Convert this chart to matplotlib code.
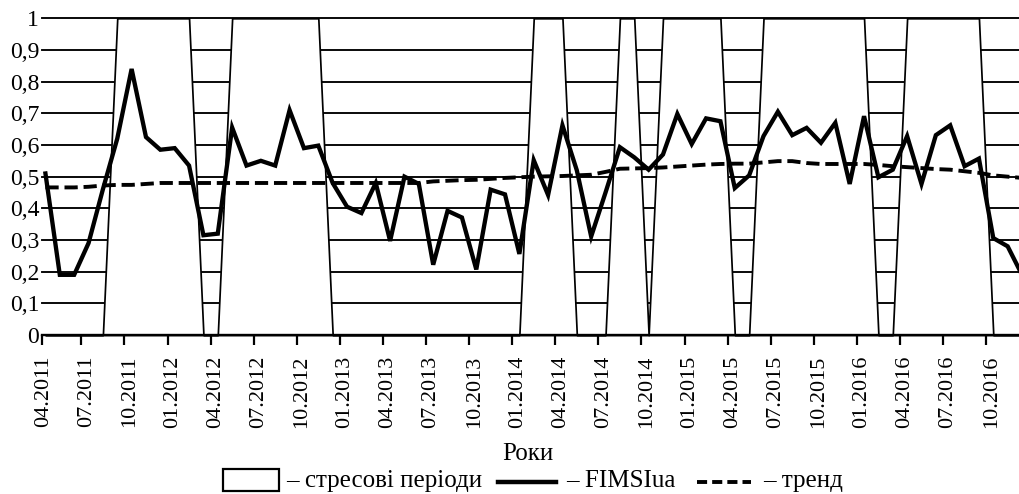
"""
FIMSIua vs stress periods, monthly 04.2011 - 12.2016.
"""

import numpy as np
import matplotlib.pyplot as plt
from matplotlib.patches import Rectangle
from matplotlib.lines import Line2D

plt.rcParams["font.family"] = ["Liberation Serif", "DejaVu Serif"]
plt.rcParams["font.size"] = 16

# monthly index values, 04.2011 ... 12.2016
fimsi = [0.51, 0.19, 0.19, 0.29, 0.46, 0.62, 0.84, 0.625, 0.585, 0.59,
         0.535, 0.315, 0.32, 0.655, 0.535, 0.55, 0.535, 0.71, 0.59, 0.598,
         0.48, 0.405, 0.385, 0.48, 0.297, 0.50, 0.477, 0.222, 0.392, 0.371,
         0.207, 0.459, 0.444, 0.256, 0.552, 0.442, 0.662, 0.52, 0.311, 0.45,
         0.593, 0.561, 0.522, 0.57, 0.698, 0.603, 0.684, 0.675, 0.464, 0.504,
         0.628, 0.705, 0.631, 0.654, 0.607, 0.67, 0.477, 0.691, 0.498, 0.522,
         0.628, 0.477, 0.631, 0.662, 0.533, 0.557, 0.306, 0.28, 0.19]

trend = [0.466, 0.466, 0.466, 0.468, 0.472, 0.474, 0.474, 0.477, 0.48, 0.48,
         0.48, 0.48, 0.48, 0.48, 0.48, 0.48, 0.48, 0.48, 0.48, 0.48,
         0.48, 0.48, 0.48, 0.48, 0.48, 0.48, 0.48, 0.485, 0.487, 0.489,
         0.49, 0.493, 0.496, 0.498, 0.50, 0.501, 0.502, 0.504, 0.506, 0.515,
         0.525, 0.526, 0.527, 0.529, 0.532, 0.535, 0.538, 0.54, 0.541, 0.541,
         0.545, 0.549, 0.549, 0.543, 0.54, 0.54, 0.54, 0.54, 0.537, 0.533,
         0.53, 0.527, 0.524, 0.522, 0.517, 0.512, 0.504, 0.50, 0.496]

# 1 = stress period
stress = [0, 0, 0, 0, 0, 1, 1, 1, 1, 1,
          1, 0, 0, 1, 1, 1, 1, 1, 1, 1,
          0, 0, 0, 0, 0, 0, 0, 0, 0, 0,
          0, 0, 0, 0, 1, 1, 1, 0, 0, 0,
          1, 1, 0, 1, 1, 1, 1, 1, 0, 0,
          1, 1, 1, 1, 1, 1, 1, 1, 0, 0,
          1, 1, 1, 1, 1, 1, 0, 0, 0]

tick_labels = ["04.2011", "07.2011", "10.2011", "01.2012", "04.2012", "07.2012",
               "10.2012", "01.2013", "04.2013", "07.2013", "10.2013", "01.2014",
               "04.2014", "07.2014", "10.2014", "01.2015", "04.2015", "07.2015",
               "10.2015", "01.2016", "04.2016", "07.2016", "10.2016"]
y_labels = ["0", "0,1", "0,2", "0,3", "0,4", "0,5", "0,6", "0,7", "0,8", "0,9", "1"]

W, H = 1019, 494


def fx(px):
    return px / W


def fy(py):
    return 1 - py / H


fig = plt.figure(figsize=(W / 100, H / 100), dpi=100)
ax = fig.add_axes([fx(42), fy(335), 1 - fx(42), (335 - 18.3) / H])

x = np.arange(len(fimsi))
ax.set_xlim(-0.24, 67.79)
ax.set_ylim(0, 1)

# grid lines behind the stress areas
for v in np.arange(0.1, 1.01, 0.1):
    ax.axhline(v, color="black", lw=1.35, zorder=1, clip_on=False)

ax.fill_between(x, 0, stress, facecolor="white", edgecolor="black",
                lw=1.25, zorder=2, clip_on=False)
ax.plot(x, trend, color="black", lw=2.8, ls=(0, (3.4, 1.5)), zorder=3)
ax.plot(x, fimsi, color="black", lw=3.1, zorder=4, solid_joinstyle="miter")

for s in ["left", "top", "right"]:
    ax.spines[s].set_visible(False)
ax.spines["bottom"].set_linewidth(1.7)
ax.spines["bottom"].set_zorder(5)

# labels sit at quarter months, tick marks between categories
lab_pos = np.arange(len(tick_labels)) * 3 - 0.15
ax.set_xticks(lab_pos)
ax.set_xticklabels(tick_labels, rotation=90)
ax.tick_params(axis="x", which="major", length=0, pad=15)
ax.set_xticks(np.concatenate([[-0.24], np.arange(1, len(tick_labels)) * 3 - 0.5]),
              minor=True)
ax.tick_params(axis="x", which="minor", length=7, width=1.6, direction="out")

ax.set_yticks(np.arange(0, 1.01, 0.1))
ax.set_yticklabels(y_labels, fontsize=17)
ax.tick_params(axis="y", length=0, pad=2)

fig.text(fx(528), fy(460), "Роки", ha="center", va="baseline", fontsize=18)

# legend drawn by hand below the axis title
fig.add_artist(Rectangle((fx(223), fy(491)), fx(279) - fx(223), fy(469) - fy(491),
                         transform=fig.transFigure, facecolor="white",
                         edgecolor="black", lw=1.6))
fig.text(fx(286), fy(487), "– стресові періоди", va="baseline", fontsize=18)
fig.add_artist(Line2D([fx(498), fx(556)], [fy(482), fy(482)], color="black",
                      lw=3.2, transform=fig.transFigure))
fig.text(fx(566), fy(487), "– FIMSIua", va="baseline", fontsize=18)
fig.add_artist(Line2D([fx(697), fx(751)], [fy(482), fy(482)], color="black",
                      lw=2.8, ls=(0, (2.6, 1.3)), transform=fig.transFigure))
fig.text(fx(763), fy(487), "– тренд", va="baseline", fontsize=18)

fig.savefig("out.png", dpi=100)
